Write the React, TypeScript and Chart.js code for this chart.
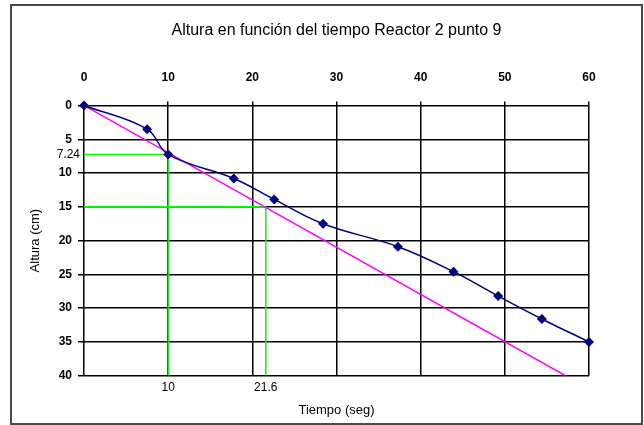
import React, { useEffect, useRef } from 'react';
import { Chart, registerables } from 'chart.js';

Chart.register(...registerables);

const titulo = 'Altura en función del tiempo Reactor 2 punto 9';
const tituloX = 'Tiempo (seg)';
const tituloY = 'Altura (cm)';

// medición: tiempo (seg) vs altura (cm)
const tiempo = [0, 7.5, 10, 17.8, 22.6, 28.4, 37.3, 43.9, 49.2, 54.4, 60];
const altura = [0, 3.5, 7.24, 10.8, 13.9, 17.5, 20.9, 24.6, 28.2, 31.6, 35];

// recta tangente (magenta)
const tendenciaX = [0, 57.2];
const tendenciaY = [0, 40];

// líneas guía (verde)
const guiaX = [10, 21.6];
const guiaY = [7.24, 15];

const xTicks = [0, 10, 20, 30, 40, 50, 60];
const yTicks = [0, 5, 10, 15, 20, 25, 30, 35, 40];

const FONT = "'Liberation Sans', Arial, sans-serif";

const textPlugin = {
  id: 'textPlugin',
  afterDraw(chart: any) {
    const y = chart.scales.y;
    const ctx = chart.ctx;
    const area = chart.chartArea;
    ctx.save();
    // chart title, centred over the plot area
    ctx.font = `16px ${FONT}`;
    ctx.fillStyle = '#000';
    ctx.textAlign = 'center';
    ctx.textBaseline = 'middle';
    ctx.fillText(titulo, (area.left + area.right) / 2, 31);
    // guide value labels on the Y side
    ctx.font = `12px ${FONT}`;
    ctx.textAlign = 'right';
    guiaY.forEach((v) => {
      if (!yTicks.includes(v)) ctx.fillText(String(v), area.left - 4, y.getPixelForValue(v));
    });
    ctx.restore();
  },
};

export default function App() {
  const ref = useRef<HTMLCanvasElement | null>(null);

  useEffect(() => {
    if (!ref.current) return;
    Chart.defaults.font.family = FONT;
    const yMin = yTicks[0];
    const yMax = yTicks[yTicks.length - 1];
    const xMin = xTicks[0];
    const xMax = xTicks[xTicks.length - 1];

    const guideSets = guiaX.map((gx, i) => ({
      label: 'guia' + i,
      data: [
        { x: xMin, y: guiaY[i] },
        { x: gx, y: guiaY[i] },
        { x: gx, y: yMax },
      ],
      showLine: true,
      borderColor: '#00ff00',
      borderWidth: 1.5,
      pointRadius: 0,
      tension: 0,
      fill: false,
    }));

    const chart = new Chart(ref.current, {
      type: 'scatter',
      data: {
        datasets: [
          {
            label: 'Altura',
            data: tiempo.map((t, i) => ({ x: t, y: altura[i] })),
            showLine: true,
            clip: false,
            borderColor: '#000080',
            backgroundColor: '#000080',
            borderWidth: 1.5,
            pointStyle: 'rectRot',
            pointRadius: 5,
            pointBorderWidth: 0,
            tension: 0.4,
            fill: false,
          },
          {
            label: 'Tangente',
            data: tendenciaX.map((t, i) => ({ x: t, y: tendenciaY[i] })),
            showLine: true,
            borderColor: '#ff00ff',
            borderWidth: 1.5,
            pointRadius: 0,
            fill: false,
          },
          ...guideSets,
        ] as any,
      },
      plugins: [textPlugin],
      options: {
        animation: false,
        responsive: false,
        events: [],
        layout: { padding: { left: 0, right: 55, top: 40, bottom: 0 } },
        plugins: {
          legend: { display: false },
          tooltip: { enabled: false },
          title: { display: false },
        },
        scales: {
          x: {
            type: 'linear',
            position: 'top',
            min: xMin,
            max: xMax,
            afterBuildTicks: (s: any) => {
              s.ticks = xTicks.map((v) => ({ value: v }));
            },
            afterFit: (s: any) => {
              s.height = 65.5;
            },
            ticks: {
              color: '#000',
              padding: 17,
              font: { size: 12, weight: 'bold', family: FONT },
            },
            grid: { color: '#000', lineWidth: 1.5, tickLength: 4, tickColor: '#000' },
            border: { display: false },
          },
          x2: {
            type: 'linear',
            position: 'bottom',
            min: xMin,
            max: xMax,
            afterBuildTicks: (s: any) => {
              s.ticks = guiaX.map((v) => ({ value: v }));
            },
            afterFit: (s: any) => {
              s.height = 49.3;
            },
            ticks: {
              color: '#000',
              padding: 5,
              font: { size: 12, family: FONT },
              callback: (v: any) => String(v),
            },
            grid: { display: false, drawTicks: false },
            border: { display: false },
            title: {
              display: true,
              text: tituloX,
              color: '#000',
              font: { size: 13, family: FONT },
              padding: { top: 0, bottom: 7 },
            },
          },
          y: {
            type: 'linear',
            position: 'left',
            reverse: true,
            min: yMin,
            max: yMax,
            afterBuildTicks: (s: any) => {
              s.ticks = yTicks.map((v) => ({ value: v }));
            },
            afterFit: (s: any) => {
              s.width = 84;
            },
            ticks: {
              color: '#000',
              padding: 6,
              font: { size: 12, weight: 'bold', family: FONT },
            },
            grid: { color: '#000', lineWidth: 1.5, tickLength: 6, tickColor: '#000' },
            border: { display: false },
            title: {
              display: true,
              text: tituloY,
              color: '#000',
              font: { size: 13, family: FONT },
              padding: { top: 28, bottom: 0 },
            },
          },
        },
      } as any,
    });
    return () => chart.destroy();
  }, []);

  return (
    <div style={{ position: 'fixed', left: 0, top: 0, width: 644, height: 425, background: '#fff' }}>
      <canvas ref={ref} width={644} height={425} style={{ position: 'absolute', left: 0, top: 0, display: 'block' }} />
      <div
        style={{
          position: 'absolute',
          left: 10,
          top: 4,
          width: 633,
          height: 421,
          boxSizing: 'border-box',
          border: '2px solid #4a4a4a',
          pointerEvents: 'none',
        }}
      />
    </div>
  );
}
